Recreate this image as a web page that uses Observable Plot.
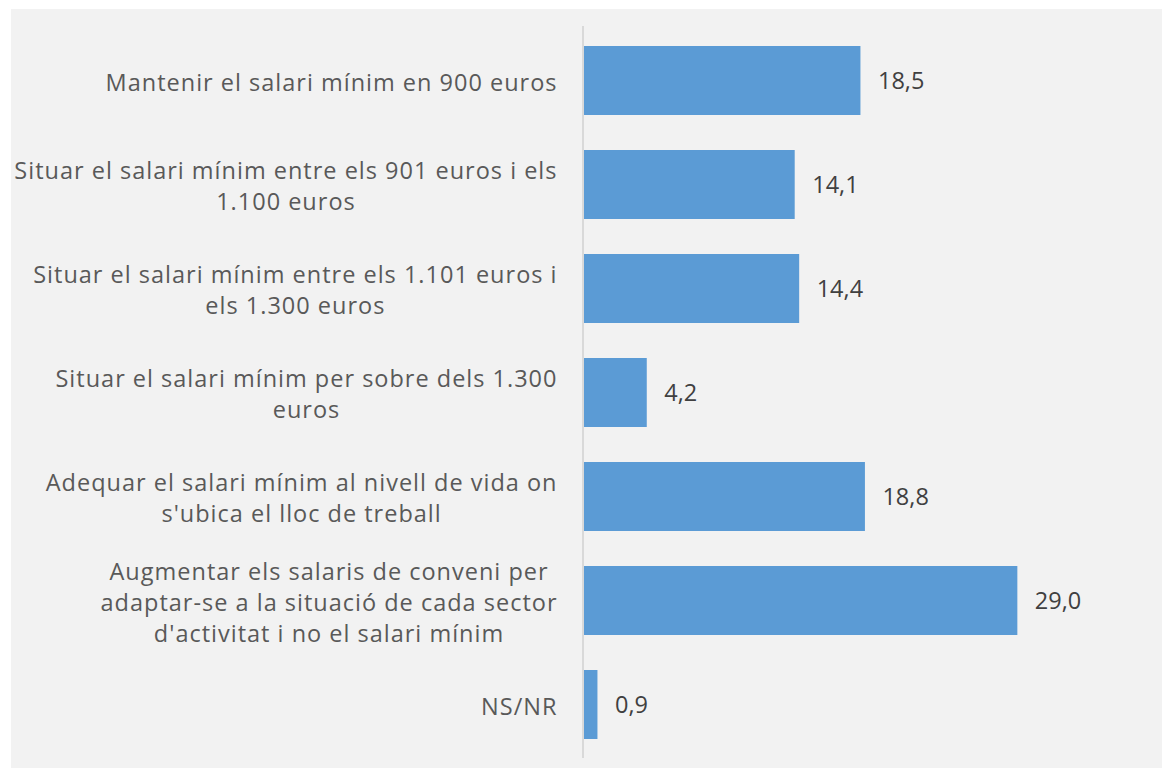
<!DOCTYPE html>
<html>
<head>
<meta charset="utf-8">
<script src="https://cdn.jsdelivr.net/npm/d3@7"></script>
<script src="https://cdn.jsdelivr.net/npm/@observablehq/plot@0.6"></script>
<style>
  html, body { margin: 0; padding: 0; background: #ffffff; }
  #chart { position: absolute; left: 11px; top: 9px; }
  #chart svg { display: block; background: #f2f2f2; }
</style>
</head>
<body>
<div id="chart"></div>
<script>
const categories = [
  "Mantenir el salari mínim en 900 euros",
  "Situar el salari mínim entre els 901 euros i els\n1.100 euros",
  "Situar el salari mínim entre els 1.101 euros i\nels 1.300 euros",
  "Situar el salari mínim per sobre dels 1.300\neuros",
  "Adequar el salari mínim al nivell de vida on\ns'ubica el lloc de treball",
  "Augmentar els salaris de conveni per\nadaptar-se a la situació de cada sector\nd'activitat i no el salari mínim",
  "NS/NR"
];
const values = [18.5, 14.1, 14.4, 4.2, 18.8, 29.0, 0.9];

const data = categories.map((c, i) => ({category: c, value: values[i]}));

const FONT = '"Open Sans", sans-serif';
const FS = 23.5;
const LS = 1; // letter spacing px for category labels
const LABEL_COLOR = "#595959";
const W = 1151, H = 759;

const ctx = document.createElement("canvas").getContext("2d");
ctx.font = `${FS}px "Open Sans"`;
const lineWidth = (l) => ctx.measureText(l).width + LS * l.length;
const blockWidth = (s) => Math.max(...s.split("\n").map(lineWidth));

const fmt = (v) => v.toFixed(1).replace(".", ",");

const labelMarks = data.map(d => Plot.text([d], {
  x: () => 0,
  y: "category",
  text: "category",
  textAnchor: "middle",
  lineAnchor: "middle",
  lineHeight: 1.32,
  dx: -(27 + blockWidth(d.category) / 2),
  fill: LABEL_COLOR,
  fontSize: FS,
  fontFamily: FONT
}));

const chart = Plot.plot({
  width: W,
  height: H,
  marginLeft: 573,
  marginRight: 55,
  marginTop: 17,
  marginBottom: 10,
  style: {background: "#f2f2f2", fontFamily: FONT},
  x: {domain: [0, 35], axis: null},
  y: {domain: categories, axis: null, paddingInner: 0.34, paddingOuter: 0.17, align: 0.5},
  marks: [
    Plot.barX(data, {x: "value", y: "category", fill: "#5b9bd5"}),
    Plot.ruleX([0], {stroke: "#d0d0d0", strokeWidth: 1.5, dx: -1.5}),
    Plot.text(data, {
      x: "value",
      y: "category",
      text: d => fmt(d.value),
      textAnchor: "start",
      dx: 17,
      fill: "#404040",
      fontSize: FS,
      fontFamily: FONT
    }),
    ...labelMarks
  ]
});
d3.select(chart).selectAll(`g[fill="${LABEL_COLOR}"]`).attr("letter-spacing", LS + "px");
document.getElementById("chart").append(chart);
</script>
</body>
</html>
